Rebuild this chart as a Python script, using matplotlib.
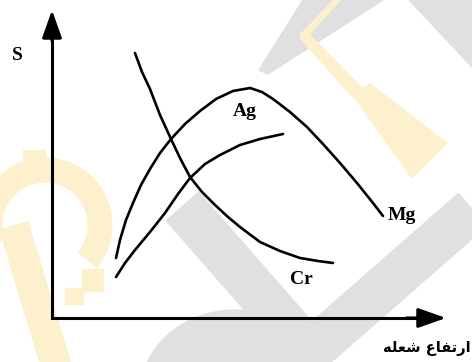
import numpy as np
import matplotlib
matplotlib.use('Agg')
import matplotlib.pyplot as plt
from matplotlib.patches import Polygon, Rectangle, Ellipse, Arc

# signal S against flame height, values measured from the origin of the axes
mg_x = [64, 68, 74, 81, 89, 98, 108, 119, 133, 148, 164, 181, 198, 210, 221, 238, 255, 271, 288, 305, 321, 331]
mg_y = [60, 78, 98, 115, 133, 149, 165, 179, 194, 207, 219, 227, 230, 226, 219, 206, 191, 174, 155, 135, 115, 102]

ag_x = [64, 73, 83, 98, 113, 126, 138, 153, 168, 188, 208, 231]
ag_y = [41, 55, 68, 86, 105, 124, 140, 154, 163, 173, 179, 184]

cr_x = [83, 90, 98, 108, 119, 128, 138, 150, 163, 176, 188, 208, 228, 248, 266, 281]
cr_y = [265, 246, 229, 203, 179, 160, 141, 126, 113, 101, 91, 76, 67, 60, 57, 55]

x_len = 394
y_len = 308

# label text (pre-shaped Arabic presentation forms, laid out right to left)
x_label = '\ufeea\ufee0\ufecc\ufeb7 \ufec9\ufe8e\ufed4\ufe97\ufead\ufe8d'
y_label = 'S'

fig = plt.figure(figsize=(4.72, 3.62), dpi=100)
ax = fig.add_axes([0, 0, 1, 1])
ax.set_xlim(-52, 420)
ax.set_ylim(-44, 318)
ax.axis('off')


def px(x, y):
    # pixel position (from top-left) -> axes units
    return (x - 52, 318 - y)


# faint logo in the background
gray = '#e0e0e0'
yellow = '#fdf0cc'
wm = []
wm.append(Polygon([px(259, 70), px(303, 0), px(383, 0), px(268, 74)], color=gray))
wm.append(Polygon([px(409, 0), px(472, 0), px(472, 67)], color=gray))
wm.append(Polygon([px(334, 0), px(340, 0), px(306, 38), px(300, 35)], color=yellow))
wm.append(Polygon([px(300, 38), px(308, 33), px(362, 88), px(352, 96)], color=yellow))
wm.append(Polygon([px(352, 94), px(370, 84), px(447, 143), px(412, 178)], color=yellow))
for a in wm:
    a.set_zorder(0)
    ax.add_patch(a)

v_x, v_y = zip(*[px(182, 206), px(310, 352), px(495, 190)])
ax.plot(v_x, v_y, color=gray, lw=32, solid_joinstyle='round', solid_capstyle='butt', zorder=0)
ax.add_patch(Ellipse(px(235, 395), 190, 170, color=gray, zorder=0))

ax.add_patch(Arc(px(45, 225), 110, 110, theta1=-40, theta2=200, color=yellow, lw=18, zorder=0))
ax.plot(*zip(*[px(18, 240), px(55, 362)]), color=yellow, lw=22, zorder=0)
ax.add_patch(Rectangle(px(23, 170), 22, 20, color=yellow, zorder=0))
ax.add_patch(Rectangle(px(82, 291), 21, 22, color=yellow, zorder=0))
ax.add_patch(Rectangle(px(65, 304), 18, 16, color=yellow, zorder=0))

# axes with arrow heads
ax.plot([0, 0, x_len - 20], [y_len - 20, 0, 0], color='black', lw=2.2,
        solid_joinstyle='miter', zorder=3)
for tip in [(x_len, 0), (0, y_len)]:
    ax.annotate('', xy=tip, xytext=(tip[0] * 0.9, tip[1] * 0.9),
                arrowprops=dict(arrowstyle='-|>,head_length=1.7,head_width=0.6',
                                mutation_scale=10, lw=2.2, color='black',
                                shrinkA=0, shrinkB=0), zorder=3)

for xs, ys in [(mg_x, mg_y), (ag_x, ag_y), (cr_x, cr_y)]:
    ax.plot(xs, ys, color='black', lw=1.9, solid_joinstyle='round',
            solid_capstyle='round', zorder=2)

serif = dict(family='Liberation Serif', weight='bold', fontsize=14, color='black')
ax.text(181, 206, 'Ag', ha='left', va='center', **serif)
ax.text(336, 103, 'Mg', ha='left', va='center', **serif)
ax.text(249, 39, 'Cr', ha='center', va='center', **serif)
ax.text(-35, 263, y_label, ha='center', va='center', **serif)
ax.text(419, -30, x_label, ha='right', va='center', fontsize=10.5,
        family=['DejaVu Sans'], weight='bold', color='black')

fig.savefig('out.png', dpi=100)
